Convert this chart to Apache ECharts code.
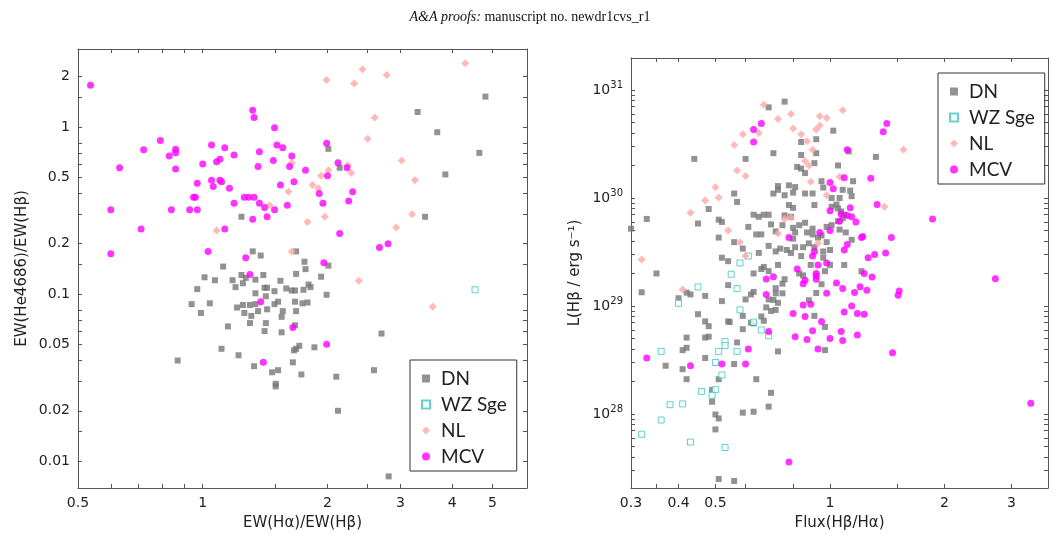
<!DOCTYPE html>
<html><head><meta charset="utf-8">
<script src="https://cdn.jsdelivr.net/npm/echarts@6/dist/echarts.min.js"></script>
<style>body{margin:0;background:#fff}#c{width:1060px;height:546px}</style>
</head><body><div id="c"></div>
<script>
// ---- Left panel: EW(Halpha)/EW(Hbeta) vs EW(He4686)/EW(Hbeta)
const leftDN = [[4.81,1.52],[3.30,1.23],[3.68,0.93],[4.65,0.70],[3.85,0.52],[3.44,0.29],[2.01,0.74],[2.14,0.57],[1.24,0.29],[1.32,0.18],[1.38,0.17],[1.68,0.18],
[1.76,0.156],[1.77,0.141],[1.12,0.146],[1.01,0.126],[1.07,0.121],[1.18,0.121],[1.24,0.130],[1.27,0.125],[1.25,0.116],[1.34,0.122],[1.40,0.130],[1.54,0.120],[1.68,0.132],[1.93,0.127],[2.01,0.148],[1.80,0.114],[1.82,0.110],[1.20,0.110],[1.41,0.109],[1.43,0.109],[1.49,0.104],[1.59,0.108],[1.64,0.105],[1.67,0.105],[1.75,0.106],[1.99,0.099],[0.97,0.107],[1.34,0.101],[1.42,0.097],[0.94,0.087],[1.04,0.088],[0.99,0.077],[1.21,0.083],[1.25,0.086],[1.30,0.086],[1.34,0.087],[1.26,0.077],[1.31,0.074],[1.36,0.079],[1.43,0.081],[1.49,0.087],[1.52,0.090],[1.56,0.079],[1.55,0.073],[1.67,0.090],[1.68,0.079],[1.74,0.088],[1.79,0.089],[1.30,0.067],[1.42,0.067],[1.41,0.060],[1.55,0.059],[1.67,0.065],[1.15,0.064],[1.11,0.047],[1.22,0.043],[0.87,0.040],[1.33,0.037],[1.47,0.034],[1.52,0.035],[1.50,0.029],[1.50,0.028],[1.65,0.039],[1.73,0.033],[1.66,0.046],[1.68,0.047],[1.71,0.049],[1.86,0.048],[2.10,0.032],[2.12,0.020],[2.59,0.035],[2.70,0.058],[2.81,0.0081]];
const leftWZ = [[4.54,0.106]];
const leftNL = [[1.99,1.91],[2.43,2.22],[2.32,1.82],[2.78,2.05],[4.30,2.41],[2.60,1.14],[2.50,0.85],[3.02,0.63],[3.25,0.48],[1.64,0.61],[2.01,0.55],[2.24,0.59],[2.28,0.53],[1.93,0.51],[1.84,0.45],[1.90,0.43],[1.61,0.41],[1.45,0.34],[1.79,0.27],[1.97,0.29],[3.20,0.30],[2.93,0.25],[1.08,0.24],[1.64,0.18],[2.38,0.12],[3.59,0.084]];
const leftMCV = [[0.536,1.78],[1.32,1.26],[1.33,1.14],[1.49,0.99],[0.79,0.83],[0.72,0.73],[0.86,0.735],[0.86,0.70],[0.83,0.67],[1.05,0.78],[1.13,0.75],[1.19,0.68],[1.37,0.71],[1.51,0.78],[1.56,0.75],[1.64,0.67],[1.48,0.63],[1.62,0.58],[1.36,0.58],[1.10,0.64],[1.08,0.62],[1.00,0.60],[0.63,0.57],[0.86,0.56],[1.99,0.80],[1.77,0.55],[2.12,0.61],[2.23,0.57],[2.00,0.51],[0.97,0.46],[1.05,0.48],[1.06,0.44],[1.10,0.48],[1.11,0.47],[1.16,0.43],[1.54,0.45],[1.66,0.47],[1.91,0.40],[2.30,0.41],[1.95,0.35],[2.25,0.36],[0.95,0.38],[0.96,0.38],[1.19,0.35],[1.26,0.38],[1.29,0.38],[1.33,0.38],[1.37,0.35],[1.41,0.33],[1.49,0.32],[1.60,0.34],[0.60,0.32],[0.84,0.32],[0.93,0.32],[0.97,0.32],[1.32,0.28],[1.43,0.29],[0.71,0.245],[1.13,0.245],[2.14,0.23],[2.67,0.19],[2.80,0.20],[0.60,0.174],[1.03,0.18],[1.27,0.165],[1.30,0.131],[1.96,0.154],[1.38,0.090],[1.65,0.063],[1.99,0.050],[1.40,0.039]];
// ---- Right panel: Flux(Hbeta/Halpha) vs L(Hbeta) [erg/s]
const rightDN = [[0.76,7.8e30],[0.69,6.9e30],[1.02,4.2e30],[0.92,3.5e30],[0.84,3.3e30],[0.44,2.3e30],[0.60,2.3e30],[0.71,2.6e30],[0.92,2.6e30],[0.84,2.5e30],[1.12,2.7e30],[1.32,2.4e30],[0.82,1.94e30],[0.84,1.87e30],[0.86,1.70e30],[0.91,2.1e30],[1.05,2.0e30],[0.95,1.43e30],[1.15,1.43e30],[0.96,1.25e30],[1.08,1.19e30],[1.13,1.17e30],[1.14,1.04e30],[1.01,1.0e30],[1.06,1.0e30],[0.73,1.29e30],[0.78,1.31e30],[0.73,1.19e30],[0.81,1.26e30],[0.71,1.10e30],[0.76,1.06e30],[0.80,1.12e30],[0.86,1.10e30],[0.90,1.10e30],[0.56,1.10e30],[0.57,9.2e29],[0.91,8.6e29],[0.78,8.6e29],[0.80,8.1e29],[1.01,8.3e29],[1.04,8.7e29],[1.05,8.0e29],[1.07,7.5e29],[1.09,7.0e29],[1.08,6.5e29],[0.33,6.4e29],[0.30,5.2e29],[0.45,5.8e29],[0.48,7.9e29],[0.51,6.3e29],[0.52,6.0e29],[0.61,5.4e29],[0.63,7.0e29],[0.65,6.7e29],[0.67,7.0e29],[0.69,7.0e29],[0.70,5.7e29],[0.75,5.6e29],[0.76,6.9e29],[0.79,6.7e29],[0.80,5.3e29],[0.83,5.6e29],[0.86,5.9e29],[0.80,4.2e29],[0.81,4.8e29],[0.64,4.6e29],[0.66,4.6e29],[0.72,4.9e29],[0.87,4.8e29],[0.90,5.2e29],[0.90,4.6e29],[0.93,4.3e29],[0.95,4.5e29],[0.98,5.4e29],[1.01,5.6e29],[1.05,6.1e29],[1.06,5.1e29],[1.10,4.8e29],[1.14,4.1e29],[0.51,4.3e29],[0.56,3.9e29],[0.59,3.4e29],[0.69,3.6e29],[0.72,3.2e29],[0.74,3.4e29],[0.77,3.3e29],[0.79,3.1e29],[0.81,3.5e29],[0.85,3.5e29],[0.88,3.8e29],[0.91,3.5e29],[0.96,3.2e29],[0.98,3.9e29],[1.00,3.3e29],[0.65,3.1e29],[0.84,2.9e29],[0.96,2.8e29],[0.52,2.8e29],
[0.35,2.0e29],[0.32,1.34e29],[0.40,1.18e29],[0.42,1.33e29],[0.43,1.28e29],[0.47,1.24e29],[0.52,1.11e29],[0.54,2.6e29],[0.63,2.0e29],[0.66,2.2e29],[0.67,2.3e29],[0.69,2.1e29],[0.73,2.4e29],[0.76,1.77e29],[0.75,1.61e29],[0.83,2.0e29],[0.85,1.92e29],[0.89,2.4e29],[0.95,1.59e29],[0.97,2.1e29],[1.00,2.4e29],[1.09,2.4e29],[1.21,2.1e29],[0.92,1.32e29],[0.54,1.56e29],[0.62,1.28e29],[0.63,1.35e29],[0.60,1.15e29],[0.68,9.7e28],[0.69,1.15e29],[0.71,1.14e29],[0.70,9.0e28],[0.72,9.2e28],[0.73,1.07e29],[0.72,1.46e29],[0.72,1.31e29],[0.75,1.31e29],[0.88,1.13e29],[0.45,8.4e28],[0.47,7.2e28],[0.48,6.5e28],[0.54,7.2e28],[0.545,7.1e28],[0.59,8.1e28],[0.59,6.1e28],[0.62,7.0e28],[0.63,6.9e28],[0.66,8.0e28],[0.67,7.3e28],[0.91,8.1e28],[0.97,6.4e28],[0.42,5.1e28],[0.47,5.1e28],[0.48,5.2e28],[0.41,3.9e28],[0.42,4.1e28],[0.57,4.6e28],[0.73,3.8e28],[0.97,3.9e28],[0.47,3.3e28],[0.37,2.8e28],[0.41,2.6e28],[0.56,2.9e28],[0.42,2.1e28],[0.51,2.1e28],[0.64,2.1e28],[0.49,1.67e28],[0.49,1.30e28],[0.70,1.57e28],[0.69,1.17e28],[0.50,9.9e27],[0.51,9.1e27],[0.59,1.03e28],[0.63,1.05e28],[0.50,7.2e27],[0.51,2.5e27],[0.56,2.4e27]];
const rightWZ = [[0.61,2.9e29],[0.58,2.5e29],[0.55,1.97e29],[0.57,1.45e29],[0.45,1.50e29],[0.40,1.06e29],[0.58,9.2e28],[0.63,7.1e28],[0.66,6.0e28],[0.69,5.3e28],[0.53,4.7e28],[0.53,4.3e28],[0.51,3.8e28],[0.57,3.8e28],[0.36,3.8e28],[0.50,3.0e28],[0.52,2.3e28],[0.50,1.68e28],[0.49,1.49e28],[0.46,1.62e28],[0.41,1.24e28],[0.38,1.22e28],[0.36,8.8e27],[0.32,6.5e27],[0.43,5.5e27],[0.53,4.9e27]];
const rightNL = [[0.67,7.3e30],[0.79,6.0e30],[0.73,5.4e30],[0.94,5.7e30],[0.98,5.5e30],[1.08,6.5e30],[0.80,4.4e30],[0.94,4.7e30],[0.92,4.3e30],[0.65,4.0e30],[0.59,3.9e30],[0.56,3.1e30],[0.84,3.9e30],[0.87,3.35e30],[0.90,2.8e30],[0.86,2.2e30],[0.88,2.0e30],[0.57,1.8e30],[0.60,1.6e30],[0.89,1.41e30],[1.06,1.57e30],[1.56,2.8e30],[0.50,1.26e30],[0.51,1.01e30],[0.47,9.5e29],[0.43,7.3e29],[0.98,1.06e30],[1.39,8.3e29],[0.76,6.4e29],[0.79,6.6e29],[0.54,5.0e29],[0.73,4.7e29],[0.58,3.9e29],[0.93,3.8e29],[0.32,2.7e29],[0.41,1.42e29],[0.60,2.9e29]];
const rightMCV = [[0.66,4.9e30],[0.63,4.3e30],[0.63,3.3e30],[1.41,4.9e30],[1.38,4.1e30],[1.11,2.8e30],[1.09,1.54e30],[1.28,1.52e30],[1.00,1.39e30],[1.02,1.22e30],[1.33,8.7e29],[1.13,8.1e29],[1.00,7.6e29],[1.07,7.1e29],[1.11,6.9e29],[1.14,6.7e29],[1.06,6.1e29],[1.17,6.0e29],[1.86,6.4e29],[1.00,5.0e29],[0.94,4.8e29],[1.22,4.4e29],[1.21,4.3e29],[1.45,4.3e29],[0.78,4.3e29],[1.11,3.7e29],[1.09,3.3e29],[1.31,3.0e29],[1.40,3.1e29],[1.26,2.8e29],[0.91,3.2e29],[0.90,2.9e29],
[0.82,2.2e29],[0.93,2.4e29],[0.98,2.5e29],[0.92,2.0e29],[0.92,1.9e29],[0.92,1.77e29],[0.86,1.73e29],[0.85,1.61e29],[0.71,1.87e29],[0.68,1.78e29],[0.68,1.28e29],[0.98,1.31e29],[1.04,1.63e29],[1.08,1.45e29],[1.16,1.33e29],[1.20,1.51e29],[1.25,1.40e29],[1.23,2.0e29],[1.29,1.86e29],[1.52,1.38e29],[1.51,1.26e29],[0.85,1.02e29],[0.89,1.04e29],[0.80,8.5e28],[0.86,8.0e28],[1.09,8.8e28],[1.14,1.0e29],[1.18,8.5e28],[1.23,8.4e28],[0.95,7.2e28],[0.90,5.9e28],[1.07,5.8e28],[1.08,4.8e28],[0.81,5.2e28],[0.87,4.9e28],[1.00,5.0e28],[1.18,5.4e28],[0.93,4.0e28],[1.46,3.7e28],[0.69,5.8e28],[0.61,4.0e28],[0.52,2.9e28],[0.60,2.9e28],[0.43,2.8e28],[0.33,3.3e28],[2.72,1.79e29],[3.37,1.26e28],[0.78,3.6e27]];
// tick values
const leftXLabels = [0.5,1,2,3,4,5];
const leftXTicks = [0.6,0.7,0.8,0.9,1,1.5,2,2.5,3,4,5];
const leftYLabels = [0.01,0.02,0.05,0.1,0.2,0.5,1,2];
const leftYTicks = [0.01,0.015,0.02,0.03,0.04,0.05,0.06,0.07,0.08,0.1,0.15,0.2,0.3,0.4,0.5,0.6,0.7,0.8,1,1.5,2];
const rightXLabels = [0.3,0.4,0.5,1,2,3];
const rightXTicks = [0.35,0.4,0.5,0.6,0.8,1,1.5,2,3];
const rightYLabels = [28,29,30,31];

const L = Math.log10;
const tr = a => a.map(p => [L(p[0]), L(p[1])]);
function decadeTicks(lo, hi) { const t=[]; for (let e=lo;e<=hi;e++) for (let k=1;k<10;k++) t.push(e+L(k)); return t; }

const dark = '#555';
const fontF = '"DejaVu Sans", sans-serif';
function xAxisDef(grid, min, max, labels, ticks, name, pos, show) {
  return { type:'value', gridIndex:grid, min:min, max:max, position:pos,
    name: show?name:'', nameLocation:'middle', nameGap:28, nameTextStyle:{color:'#222',fontSize:15,fontFamily:fontF},
    axisLine:{show:true,onZero:false,lineStyle:{color:dark,width:1}}, splitLine:{show:false},
    axisTick:{show:true,inside:true,length:4,customValues:ticks,lineStyle:{color:dark}},
    axisLabel:{show:show,showMinLabel:true,showMaxLabel:true,customValues:labels,color:'#222',fontSize:14,fontFamily:fontF,margin:8,
      formatter:v=>{const x=Math.pow(10,v);return String(+x.toPrecision(2));}} };
}
const legendBase = {orient:'vertical',itemGap:7,itemWidth:8,itemHeight:8,padding:[9,10,5,11],
  borderColor:'#333',borderWidth:1,borderRadius:0,
  textStyle:{fontSize:19,fontFamily:'Lato, sans-serif',color:'#222',lineHeight:19,padding:[0,0,0,6]},
  data:['DN','WZ Sge','NL','MCV']};
const option = {
  animation:false,
  title:{text:'{i|A&A proofs:} manuscript no. newdr1cvs_r1',left:'center',top:5,
    textStyle:{fontFamily:'"Liberation Serif", serif',fontWeight:'normal',fontSize:14,color:'#111',
    rich:{i:{fontStyle:'italic',fontFamily:'"Liberation Serif", serif',fontSize:14,color:'#111'}}}},
  grid:[{left:78,top:49,width:449,height:439},{left:631,top:58,width:417,height:430}],
  xAxis:[
    xAxisDef(0,L(0.5),L(6.06),leftXLabels.map(L),leftXTicks.map(L),'EW(Hα)/EW(Hβ)','bottom',true),
    xAxisDef(0,L(0.5),L(6.06),[],leftXTicks.map(L),'','top',false),
    xAxisDef(1,L(0.3),L(3.74),rightXLabels.map(L),rightXTicks.map(L),'Flux(Hβ/Hα)','bottom',true),
    xAxisDef(1,L(0.3),L(3.74),[],rightXTicks.map(L),'','top',false)
  ],
  yAxis:[
    Object.assign(xAxisDef(0,L(0.0069),L(2.93),leftYLabels.map(L),leftYTicks.map(L),'EW(He4686)/EW(Hβ)','left',true),{nameGap:48}),
    xAxisDef(0,L(0.0069),L(2.93),[],leftYTicks.map(L),'','right',false),
    Object.assign(xAxisDef(1,27.315,31.296,rightYLabels,decadeTicks(27,31).filter(v=>v>27.315&&v<31.296),'L(Hβ / erg s⁻¹)','left',true),
      {nameGap:48, axisLabel:{show:true,customValues:rightYLabels,margin:8,formatter:v=>'{b|10}{s|'+Math.round(v)+'}',
        rich:{b:{fontSize:14,color:'#222',fontFamily:fontF},s:{fontSize:10,color:'#222',fontFamily:fontF,padding:[0,0,10,0]}}}}),
    xAxisDef(1,27.315,31.296,[],decadeTicks(27,31).filter(v=>v>27.315&&v<31.296),'','right',false)
  ],
  legend:[
    Object.assign({left:410,top:360},legendBase),
    Object.assign({left:938,top:73},legendBase)
  ],
  series:[]
};
const styles = {
  'DN':{symbol:'rect',symbolSize:6,itemStyle:{color:'#777777'}},
  'WZ Sge':{symbol:'rect',symbolSize:6,itemStyle:{color:'#ffffff',borderColor:'#3cc4c4',borderWidth:1}},
  'NL':{symbol:'diamond',symbolSize:8,itemStyle:{color:'#ffa8a8'}},
  'MCV':{symbol:'circle',symbolSize:7,itemStyle:{color:'#ff00ff'}}
};
const sets = [['DN',leftDN,rightDN],['WZ Sge',leftWZ,rightWZ],['NL',leftNL,rightNL],['MCV',leftMCV,rightMCV]];
sets.forEach(([n,a,b])=>{
  option.series.push(Object.assign({type:'scatter',name:n,xAxisIndex:0,yAxisIndex:0,data:tr(a)},styles[n]));
  option.series.push(Object.assign({type:'scatter',name:n,xAxisIndex:2,yAxisIndex:2,data:tr(b)},styles[n]));
});
echarts.init(document.getElementById('c')).setOption(option);
</script></body></html>
